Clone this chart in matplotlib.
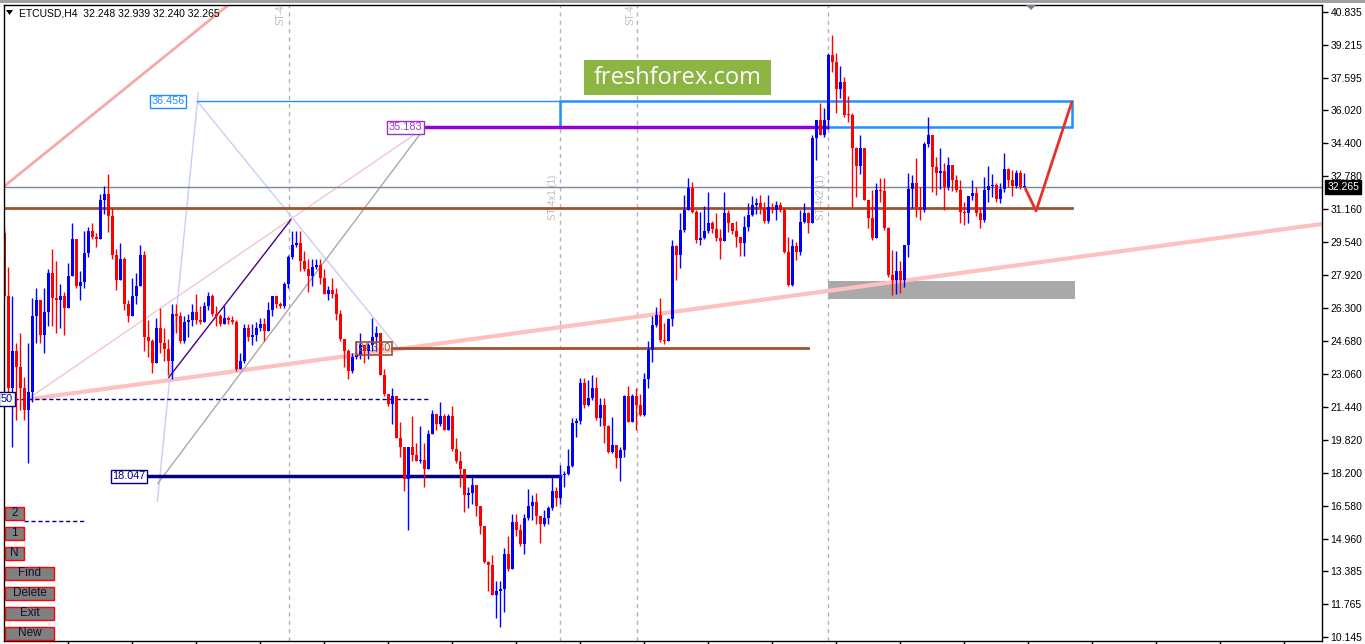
import numpy as np
import matplotlib
matplotlib.use("Agg")
import matplotlib.pyplot as plt
from matplotlib.patches import Rectangle, Polygon
import matplotlib.transforms as mtransforms

plt.rcParams["font.family"] = ["Liberation Sans", "DejaVu Sans"]

# ---------------- data (H4 bars) ----------------
symbol = "ETCUSD,H4"
last_ohlc = [32.248, 32.939, 32.240, 32.265]
first_open = 30.0

closes = [
    26.9, 22.4, 24.2, 23.4, 22.4, 21.3, 22.2, 25.9, 26.7, 25.0,
    26.1, 28.0, 26.8, 26.7, 26.9, 26.3, 27.9, 29.7, 27.4, 27.6,
    29.0, 30.1, 29.8, 29.7, 31.6, 31.9, 30.8, 28.9, 27.7, 28.7,
    26.5, 25.9, 26.9, 27.4, 28.9, 24.9, 24.7, 23.6, 25.3, 24.6,
    24.3, 23.7, 26.0, 25.9, 24.7, 25.6, 25.7, 26.1, 25.7, 25.6,
    26.4, 26.9, 26.0, 25.9, 25.5, 25.8, 25.7, 25.6, 23.3, 23.7,
    25.3, 24.9, 25.0, 25.3, 25.5, 25.2, 26.2, 26.9, 26.5, 26.4,
    27.5, 28.8, 29.4, 29.5, 28.6, 28.2, 27.9, 28.3, 28.4, 27.8,
    27.0, 27.2, 27.0, 26.0, 24.8, 24.2, 23.2, 23.9, 24.0, 24.5,
    24.2, 24.5, 24.9, 25.1, 23.0, 22.1, 21.6, 22.0, 19.9, 19.5,
    17.9, 19.5, 19.1, 18.8, 18.85, 18.4, 20.1, 21.1, 20.6, 21.0,
    20.3, 21.0, 19.4, 18.8, 18.4, 17.1, 17.2, 17.6, 16.6, 15.6,
    13.85, 13.7, 12.2, 12.4, 12.5, 14.25, 13.5, 15.8, 15.4, 14.7,
    16.0, 16.6, 16.8, 16.1, 15.7, 15.98, 16.5, 17.3, 17.0, 18.1,
    18.15, 18.55, 20.64, 20.75, 22.64, 21.54, 21.87, 22.36, 20.89, 21.54,
    20.5, 19.25, 19.58, 18.94, 19.33, 21.98, 20.73, 22.0, 21.54, 21.05,
    22.8, 24.24, 25.47, 25.96, 24.73, 24.7, 25.75, 29.35, 28.9, 30.13,
    31.12, 32.18, 31.03, 29.64, 29.72, 30.1, 30.5, 30.2, 29.72, 29.6,
    30.95, 30.5, 30.1, 29.8, 29.5, 30.3, 30.87, 31.36, 31.44, 31.2,
    30.57, 31.28, 31.12, 31.36, 31.1, 29.07, 27.43, 29.35, 29.07, 30.54,
    30.95, 30.5, 34.63, 35.53, 34.79, 35.53, 38.72, 38.39, 37.08, 37.41,
    35.78, 35.76, 34.17, 33.29, 34.14, 31.6, 30.7, 29.72, 32.09, 32.05,
    30.21, 27.92, 27.67, 28.1, 27.67, 29.39, 32.17, 32.42, 31.27, 31.1,
    34.38, 34.79, 33.24, 32.91, 33.03, 32.26, 33.32, 32.6, 32.09, 31.03,
    30.95, 31.8, 31.95, 30.95, 30.62, 32.09, 32.3, 32.34, 31.68, 32.17,
    33.12, 32.6, 32.3, 32.91, 32.26, 32.265,
]

highs = [
    30.3, 28.3, 26.9, 24.6, 25.1, 22.9, 24.6, 26.8, 27.3, 26.7,
    27.3, 28.2, 29.2, 28.6, 27.5, 27.1, 28.5, 30.5, 29.7, 28.1,
    30.1, 30.3, 30.5, 30.0, 31.9, 32.3, 32.9, 31.2, 29.2, 29.5,
    28.8, 26.7, 27.8, 28.0, 29.4, 29.1, 25.7, 24.8, 25.8, 26.3,
    25.3, 24.8, 26.5, 26.5, 26.1, 25.9, 26.0, 26.5, 27.0, 26.4,
    26.6, 27.1, 27.0, 26.4, 26.0, 26.4, 25.9, 25.9, 25.7, 24.1,
    25.5, 25.5, 25.5, 25.6, 25.8, 25.8, 26.6, 26.9, 26.9, 26.6,
    27.6, 28.9, 30.1, 30.1, 30.1, 29.1, 28.7, 28.7, 28.7, 28.7,
    28.2, 27.4, 27.8, 27.3, 26.2, 24.8, 24.3, 24.1, 24.7, 25.1,
    24.5, 24.6, 25.8, 25.4, 25.1, 23.3, 22.1, 22.4, 22.0, 20.7,
    19.5, 19.5, 21.0, 19.7, 20.5, 19.7, 20.3, 21.3, 21.1, 21.7,
    21.1, 21.1, 21.5, 19.9, 19.3, 18.4, 17.5, 18.0, 17.6, 16.6,
    15.6, 13.9, 14.2, 12.9, 12.9, 14.5, 15.1, 16.2, 16.2, 15.7,
    16.2, 17.4, 17.1, 17.2, 16.1, 16.4, 16.6, 18.0, 17.5, 18.6,
    18.3, 19.4, 20.9, 20.9, 22.85, 22.85, 22.77, 23.0, 22.93, 21.87,
    21.87, 20.55, 20.97, 19.6, 19.5, 22.03, 22.5, 22.1, 22.36, 22.1,
    23.1, 24.7, 25.9, 26.37, 26.8, 25.55, 25.8, 29.64, 29.4, 30.95,
    31.85, 32.67, 32.5, 31.12, 31.0, 31.3, 32.0, 30.6, 30.95, 30.2,
    32.0, 31.1, 30.5, 30.6, 29.8, 30.8, 31.44, 31.8, 31.7, 31.85,
    31.5, 31.85, 31.45, 31.55, 31.5, 31.2, 29.8, 29.7, 29.55, 31.1,
    31.44, 31.0, 34.79, 35.53, 36.35, 36.1, 38.8, 39.7, 38.8, 38.2,
    37.66, 36.7, 35.9, 34.22, 34.79, 34.14, 31.6, 32.1, 32.42, 32.67,
    32.67, 30.3, 29.15, 29.1, 28.6, 29.4, 32.91, 32.83, 33.65, 32.26,
    34.46, 35.69, 34.79, 33.73, 34.14, 33.4, 33.73, 33.32, 32.83, 32.6,
    31.5, 31.8, 32.58, 32.26, 31.27, 32.75, 33.3, 32.9, 32.42, 32.42,
    33.93, 33.16, 33.1, 33.08, 33.08, 32.939,
]

lows = [
    26.7, 21.8, 19.5, 20.8, 21.3, 20.8, 18.7, 21.7, 24.6, 24.6,
    24.1, 25.4, 25.4, 25.1, 25.3, 25.0, 26.3, 27.9, 27.3, 26.7,
    27.3, 28.8, 29.7, 29.3, 29.7, 30.9, 30.05, 28.7, 27.2, 27.7,
    26.2, 25.6, 25.9, 26.5, 27.4, 24.2, 23.9, 23.1, 23.6, 24.1,
    23.7, 23.0, 22.8, 25.1, 24.6, 24.6, 24.9, 25.4, 25.5, 25.5,
    25.7, 26.2, 25.9, 25.4, 25.4, 25.5, 25.5, 25.5, 23.2, 23.3,
    23.6, 24.7, 24.5, 24.7, 25.2, 24.7, 25.2, 25.9, 26.3, 26.3,
    26.3, 27.3, 28.7, 29.3, 28.1, 28.1, 27.1, 27.4, 28.2, 27.5,
    27.0, 26.7, 26.8, 25.7, 24.7, 23.4, 22.8, 23.1, 23.8, 23.8,
    23.6, 23.8, 24.2, 24.2, 23.0, 22.0, 21.5, 20.6, 19.9, 19.0,
    17.3, 15.4, 18.8, 18.8, 18.7, 17.5, 18.4, 20.1, 20.3, 20.5,
    20.3, 20.3, 19.3, 18.7, 17.5, 16.3, 16.5, 16.7, 16.1, 15.2,
    13.8, 12.4, 12.2, 11.1, 10.65, 11.4, 13.4, 13.5, 15.1, 14.6,
    14.25, 15.9, 15.9, 15.7, 14.75, 15.6, 15.7, 16.4, 16.6, 16.7,
    17.5, 18.1, 18.5, 19.99, 20.6, 21.4, 21.5, 21.8, 20.8, 20.5,
    19.7, 19.2, 19.2, 18.45, 17.8, 19.0, 20.7, 20.7, 20.3, 21.0,
    21.0, 22.36, 23.67, 25.39, 24.65, 24.55, 24.7, 25.43, 27.68, 28.25,
    30.05, 31.1, 30.95, 29.5, 29.4, 29.7, 30.0, 30.0, 29.6, 28.7,
    29.6, 30.05, 29.95, 29.3, 28.85, 28.85, 30.1, 30.8, 30.9, 30.9,
    30.5, 30.5, 30.95, 30.62, 31.0, 29.0, 27.38, 27.38, 28.66, 28.9,
    30.5, 29.97, 30.5, 33.57, 34.79, 34.7, 35.1, 37.9, 35.86, 36.6,
    35.7, 35.45, 31.27, 31.77, 32.9, 31.6, 30.21, 29.64, 29.72, 31.52,
    30.13, 27.84, 26.94, 27.0, 27.02, 27.35, 28.8, 31.19, 30.79, 30.62,
    31.03, 34.22, 32.01, 31.85, 32.17, 31.11, 32.1, 32.05, 32.0, 30.46,
    30.37, 30.46, 31.6, 30.8, 30.21, 30.54, 31.5, 31.77, 31.52, 31.44,
    32.01, 32.26, 31.8, 32.2, 32.17, 32.24,
]

price_ticks = [40.835, 39.215, 37.595, 36.020, 34.400, 32.780, 31.160, 29.540,
               27.920, 26.300, 24.680, 23.060, 21.440, 19.820, 18.200, 16.580,
               14.960, 13.385, 11.765, 10.145]

# drawn objects: levels, rectangles, trend lines (bar index, price)
level_high = 36.456
level_mid = 35.183
level_brown = 31.21
level_brown2 = 24.330
level_low = 18.047
level_dash = 21.835
level_dash2 = 15.85
zone_low = (26.75, 27.63)
pink_trend = [(6.5, 21.84), (329.5, 30.43)]
pink_steep = [(0.0, 32.29), (56.0, 41.18)]
thin_pink = [(6.5, 21.93), (105.25, 35.183)]
lav_up = [(38.25, 16.78), (48.5, 36.9)]
lav_down = [(48.25, 36.456), (98.5, 24.34)]
indigo_line = [(41.0, 22.87), (71.75, 30.67)]
gray_line = [(38.25, 17.66), (105.25, 35.183)]
forecast = [(255.25, 32.195), (258.0, 31.07), (267.0, 36.46)]
vlines_at = [71.25, 139.0, 158.25, 206.0]
buttons = ["2", "1", "N", "Find", "Delete", "Exit", "New"]

# ---------------- figure ----------------
W, H = 1365, 644
fig = plt.figure(figsize=(W / 100, H / 100), dpi=100)
fig.patch.set_facecolor("white")
ax = fig.add_axes([4 / W, 3 / H, 1318 / W, 636 / H])
ax.set_xlim(-0.1, 329.5)
ax.set_ylim(9.957, 41.18)
ax.set_facecolor("white")

def fx(px):
    return px / W

def fy(py):
    return 1 - py / H

# zones / rectangles under candles
ax.add_patch(Rectangle((206, zone_low[0]), 61.75, zone_low[1] - zone_low[0],
                       facecolor="#A9A9A9", edgecolor="none", zorder=1))

for v in vlines_at:
    ax.axvline(v, color="#B4B4B4", lw=1, ls=(0, (3, 3)), zorder=1)

# trend lines
def seg(pts, **kw):
    xs = [p[0] for p in pts]
    ys = [p[1] for p in pts]
    ax.plot(xs, ys, solid_capstyle="butt", **kw)

seg(pink_trend, color="#FFC0C0", lw=3, zorder=1.5)
seg(pink_steep, color="#F7A8A8", lw=2, zorder=1.5)
seg(thin_pink, color="#F2C6D0", lw=1, zorder=1.5)
seg(lav_up, color="#CCCCF5", lw=1, zorder=1.5)
seg(lav_down, color="#CCCCF5", lw=1, zorder=1.5)
seg(indigo_line, color="#4B0082", lw=1, zorder=1.5)
seg(gray_line, color="#A9A9A9", lw=1, zorder=1.5)

# horizontal levels
ax.axhline(last_ohlc[3], color="#778899", lw=1, zorder=1.6)
ax.plot([0, 267], [level_brown, level_brown], color="#A0522D", lw=2, zorder=1.6)
ax.plot([97, 201], [level_brown2, level_brown2], color="#A0522D", lw=2, zorder=1.6)
ax.plot([48.25, 139], [level_high, level_high], color="#1E90FF", lw=1, zorder=1.6)
ax.add_patch(Rectangle((139, level_mid), 128, level_high - level_mid,
                       facecolor="none", edgecolor="#1E90FF", lw=1.8, zorder=1.6))
ax.plot([105.25, 205.75], [level_mid, level_mid], color="#9400D3", lw=2.5, zorder=1.7)
ax.plot([36, 139], [level_low, level_low], color="#000080", lw=2.5, zorder=1.6)
ax.plot([2.5, 106.5], [level_dash, level_dash], color="#000080", lw=1,
        ls=(0, (3, 2)), zorder=1.6)
ax.plot([5, 20], [level_dash2, level_dash2], color="#000080", lw=1,
        ls=(0, (3, 2)), zorder=1.6)

# candles
c = np.array(closes)
o = np.array([first_open] + closes[:-1])
hi = np.maximum(np.array(highs), np.maximum(o, c))
lo = np.minimum(np.array(lows), np.minimum(o, c))
x = np.arange(len(c))
up = c >= o
cols = np.where(up, "#0000FF", "#FF0000")
bottom = np.minimum(o, c)
height = np.maximum(np.abs(c - o), 0.05)
ax.vlines(x, lo, hi, colors=cols, lw=1, zorder=2)
ax.bar(x, height, bottom=bottom, width=0.75, color=cols, linewidth=0, zorder=2.1)

# forecast path
seg(forecast, color="#E8302A", lw=2, zorder=3)

# level labels
lab_font = dict(fontsize=7.8, va="center", ha="left", zorder=4)
ax.text(36.75, level_high, "36.456", color="#1E90FF",
        bbox=dict(boxstyle="square,pad=0.15", fc="white", ec="#1E90FF", lw=1), **lab_font)
ax.text(96.0, level_mid, "35.183", color="#9932CC",
        bbox=dict(boxstyle="square,pad=0.15", fc="white", ec="#9932CC", lw=1), **lab_font)
ax.text(27.0, level_low, "18.047", color="#000080",
        bbox=dict(boxstyle="square,pad=0.15", fc="white", ec="#000080", lw=1), **lab_font)
ax.text(88.3, level_brown2, "24.330", color="#A0522D",
        bbox=dict(boxstyle="square,pad=0.15", fc="none", ec="#A0522D", lw=1.2), **lab_font)
fig.text(fx(13), fy(399), "50", color="#000080", fontsize=7.8, ha="right", va="center",
         bbox=dict(boxstyle="square,pad=0.15", fc="white", ec="#000080", lw=1))

# rotated object names
rot = dict(rotation=90, color="#BBBBBB", fontsize=7, va="bottom", ha="center",
           clip_on=True, zorder=1.2)
ax.text(69.0, 40.2, "ST-4", **rot)
ax.text(156.5, 40.2, "ST-4", **rot)
ax.text(137.25, 30.63, "ST-4x1 (1)", **rot)
ax.text(204.25, 30.63, "ST-4x2 (1)", **rot)

# axes style
for s in ax.spines.values():
    s.set_color("black")
    s.set_linewidth(1)
ax.yaxis.tick_right()
ax.set_yticks(price_ticks)
ax.set_yticklabels(["%.3f" % t for t in price_ticks])
ax.tick_params(axis="y", direction="out", length=4, width=1, colors="black",
               labelsize=7.5, pad=2)
ax.set_xticks(np.arange(16, 330, 16))
ax.set_xticklabels([])
ax.tick_params(axis="x", direction="out", length=3, width=1)

# current price tag
trans = mtransforms.blended_transform_factory(ax.transAxes, ax.transData)
ax.text(1.004, last_ohlc[3], "%.3f" % last_ohlc[3], transform=trans, color="white",
        fontsize=7.5, va="center", ha="left", clip_on=False, zorder=5,
        bbox=dict(boxstyle="square,pad=0.2", fc="black", ec="black"))

# header
fig.patches.append(Rectangle((0, fy(3)), 1, 3 / H, transform=fig.transFigure,
                             facecolor="#A0A0A0", edgecolor="none"))
fig.patches.append(Polygon([[fx(6), fy(10)], [fx(13), fy(10)], [fx(9.5), fy(15)]],
                           closed=True, transform=fig.transFigure,
                           facecolor="black", edgecolor="none"))
fig.text(fx(19), fy(13), "%s  %.3f %.3f %.3f %.3f" % (symbol, *last_ohlc),
         fontsize=7.5, color="black", va="center", ha="left")
fig.patches.append(Polygon([[fx(1026), fy(5)], [fx(1036), fy(5)], [fx(1031), fy(10)]],
                           closed=True, transform=fig.transFigure,
                           facecolor="#708090", edgecolor="none"))

# watermark
fig.patches.append(Rectangle((fx(584), fy(95)), 187 / W, 35 / H, transform=fig.transFigure,
                             facecolor="#8DB544", edgecolor="none", zorder=6))
fig.text(fx(677.5), fy(77.5), "freshforex.com", color="white", fontsize=17,
         family="Open Sans", ha="center", va="center", zorder=7)

# buttons
btn_y = [507, 527, 547, 567, 587, 607, 627]
for label, by in zip(buttons, btn_y):
    bw = 19 if len(label) == 1 else 49
    fig.patches.append(Rectangle((fx(5), fy(by + 13)), bw / W, 13 / H,
                                 transform=fig.transFigure, facecolor="#808080",
                                 edgecolor="#FF0000", lw=1, zorder=6))
    fig.text(fx(5 + bw / 2), fy(by + 6.5), label, fontsize=8.5, color="#101030",
             ha="center", va="center", zorder=7)

fig.savefig("out.png", dpi=100)
